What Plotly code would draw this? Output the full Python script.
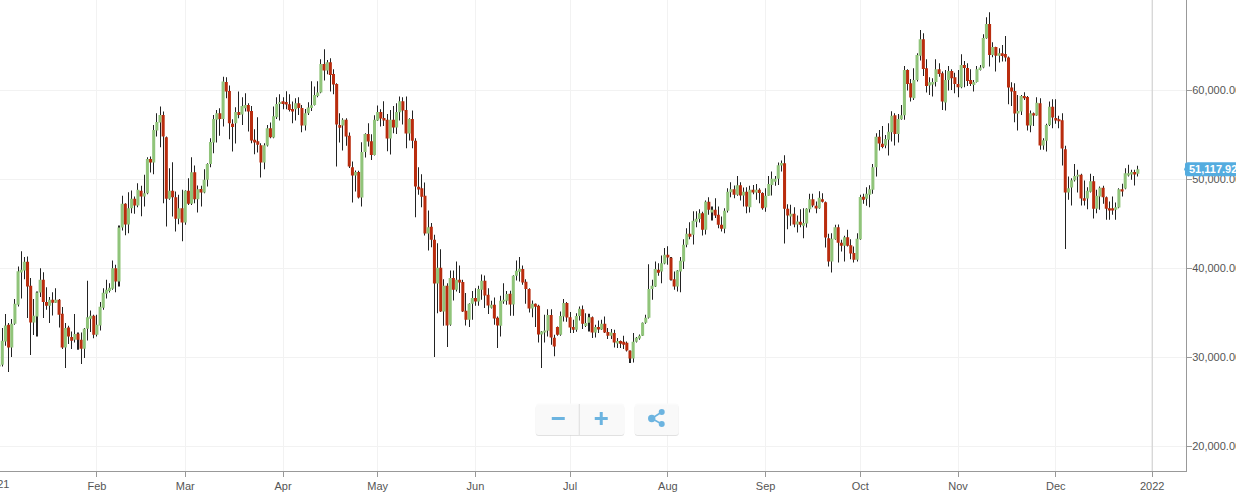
import plotly.graph_objects as go

# Daily prices in thousands of USD
opens_k = [
28.95,29.14,31.76,33.63,31.09,33.75,35.88,39.51,39.74,40.71,
38.01,33.89,34.57,37.27,38.69,36.18,35.77,36.44,36.10,36.44,
34.87,31.09,33.33,32.25,31.95,32.62,31.95,30.94,33.18,34.31,
34.64,32.51,33.56,35.54,37.12,37.42,37.68,40.00,38.50,44.57,
47.23,44.91,46.74,47.79,47.04,48.69,48.05,48.43,52.28,51.87,
55.47,56.37,57.23,54.72,47.79,48.69,47.98,45.54,46.74,45.13,
48.69,47.23,50.78,47.75,48.91,48.50,49.93,51.72,54.12,56.67,
57.42,56.78,60.94,59.92,56.22,56.29,57.56,57.27,57.98,58.35,
57.68,54.42,54.27,53.82,51.87,53.78,55.73,54.68,56.97,58.46,
58.76,58.69,58.43,57.90,57.86,58.54,58.01,56.03,57.42,58.01,
58.35,59.36,59.74,62.96,62.21,63.14,61.83,60.71,56.10,56.03,
56.67,54.87,51.35,50.41,50.82,47.94,53.07,55.09,54.27,52.73,
56.59,57.56,56.89,56.67,54.57,56.67,55.80,57.53,58.76,57.79,
55.13,56.78,54.31,49.14,48.99,48.13,43.90,44.64,43.18,38.28,
40.04,35.13,38.02,33.63,38.88,37.57,38.69,38.43,35.21,34.20,
35.99,36.63,36.26,37.57,38.58,37.00,35.54,35.88,34.42,33.52,
36.26,36.33,37.12,35.92,39.14,39.59,39.89,38.46,37.64,35.47,
35.99,35.77,32.55,32.77,32.96,34.72,32.17,33.37,32.51,34.57,
36.07,34.49,33.37,33.07,34.61,35.39,33.48,33.86,34.49,32.77,
33.37,33.11,33.75,32.81,32.40,32.70,31.54,31.80,31.72,31.61,
30.71,29.85,31.72,32.10,32.40,33.86,34.42,37.64,37.94,39.81,
39.63,40.52,41.50,41.16,38.76,37.94,39.63,40.75,42.62,43.86,
43.75,45.21,45.51,46.18,44.31,47.45,46.25,46.55,45.99,44.87,
44.42,46.44,48.54,48.88,48.24,49.33,48.16,48.58,46.85,48.80,
48.50,48.80,48.46,46.82,48.13,49.36,49.70,50.04,51.53,51.80,
46.67,45.80,46.10,44.91,45.21,44.76,45.02,46.63,47.75,47.00,
46.74,47.75,47.41,43.37,40.75,43.26,44.61,42.85,42.51,43.48,
42.58,41.69,40.94,43.26,48.02,47.79,48.24,48.80,51.35,54.76,
53.97,53.78,54.42,55.28,57.19,55.09,56.74,57.19,62.28,60.79,
59.10,61.16,63.89,65.73,62.47,60.52,60.64,60.94,62.36,61.91,
58.61,61.16,62.17,61.46,60.71,60.34,62.85,62.51,61.16,60.60,
60.94,62.28,62.55,65.84,67.45,63.97,64.87,63.89,64.16,64.08,
63.67,60.30,59.92,57.38,57.60,59.36,59.25,56.03,57.42,57.15,
58.54,53.78,54.31,56.10,58.13,56.89,56.74,56.63,53.37,48.50,
49.06,49.89,50.30,50.49,47.87,47.83,48.58,49.78,46.67,48.05,
49.03,47.98,46.74,46.74,46.55,46.82,48.88,48.95,50.41,50.52,
50.82,50.60]

closes_k = [
29.14,31.84,33.56,31.09,33.75,35.99,39.66,39.81,40.71,37.94,
33.89,34.64,37.27,38.69,36.18,35.77,36.44,36.10,36.44,34.76,
31.09,33.26,32.32,31.84,32.58,31.95,30.94,33.18,34.49,34.64,
32.51,33.63,35.65,37.23,37.56,37.79,40.00,38.50,44.57,47.23,
44.91,46.74,47.79,47.04,48.80,48.05,48.43,52.28,51.87,55.54,
56.44,57.23,54.79,47.79,48.69,47.98,45.54,46.74,45.13,48.69,
47.23,50.78,47.75,48.87,48.50,49.93,51.72,54.19,56.78,57.42,
56.78,60.97,59.85,56.29,55.88,57.56,57.23,58.24,58.35,57.60,
54.34,54.12,53.86,51.87,53.82,55.73,54.72,57.08,58.46,58.69,
58.46,58.39,57.79,57.60,58.54,58.01,56.03,57.42,58.05,58.31,
59.47,59.74,62.96,62.21,63.14,61.72,60.64,56.14,55.77,56.67,
54.79,51.42,50.41,50.82,47.94,53.07,55.09,54.23,52.73,56.67,
57.56,56.82,56.59,54.57,56.67,55.80,57.56,58.76,57.71,55.13,
56.78,54.31,49.18,48.84,48.02,43.90,44.61,43.18,38.28,40.04,
35.13,38.02,33.56,38.88,37.57,38.69,38.39,35.13,34.20,35.99,
36.63,36.26,37.64,38.58,36.93,35.81,35.88,34.35,33.56,36.33,
36.44,37.08,35.92,39.14,39.70,39.93,38.39,37.64,35.47,35.99,
35.66,32.55,32.88,33.00,34.72,32.21,31.20,32.51,34.61,36.07,
34.46,33.33,33.07,34.61,35.43,33.75,33.82,34.49,32.77,33.37,
33.11,33.75,32.77,32.40,32.77,31.65,31.80,31.50,31.39,30.75,
29.85,31.72,32.17,32.40,33.86,34.42,37.64,38.02,39.89,39.48,
40.56,41.50,41.20,38.69,37.94,39.74,40.82,42.62,43.86,43.52,
45.32,45.54,46.18,44.31,47.45,46.55,46.55,45.92,44.87,44.42,
46.44,48.58,48.88,48.24,49.33,48.16,48.58,46.93,48.80,48.50,
48.80,48.46,46.74,48.13,49.47,50.04,50.04,51.57,51.83,46.67,
45.92,46.10,44.91,45.24,44.87,45.06,46.67,47.75,47.04,46.70,
47.90,47.45,43.45,40.75,43.30,44.61,42.85,42.51,43.48,42.51,
41.65,40.94,43.30,48.01,47.68,48.35,48.88,51.35,54.76,54.01,
53.63,54.53,55.32,57.12,55.09,56.78,57.19,62.28,60.71,59.18,
61.16,63.97,65.73,62.40,60.49,60.90,60.94,62.36,61.83,58.73,
61.16,62.17,61.35,60.71,60.34,62.85,62.51,61.05,60.71,60.94,
62.36,62.55,65.88,67.45,63.97,64.87,63.89,64.16,63.86,63.67,
60.30,59.85,57.38,57.68,59.36,59.10,56.03,57.42,57.15,58.58,
53.78,54.38,56.10,58.13,56.93,56.59,56.52,53.45,48.50,48.99,
49.89,50.37,50.49,47.83,47.57,48.69,49.78,46.67,48.13,49.03,
47.98,46.67,46.48,46.48,46.85,48.88,48.61,50.67,50.67,50.82,
50.52,51.11792]

highs_k = [
29.51,33.26,34.83,33.82,34.27,36.52,40.19,41.91,41.24,41.31,
38.88,36.52,37.38,40.00,39.55,37.86,36.74,37.30,37.75,36.52,
35.62,33.82,33.52,32.88,34.83,32.77,32.77,33.26,38.58,35.24,
34.76,34.76,36.18,37.75,38.69,38.31,40.86,40.37,44.79,48.13,
47.30,48.54,48.73,48.05,49.55,49.25,50.49,52.47,52.54,56.10,
57.41,58.16,57.60,54.79,51.23,51.91,48.61,48.24,48.80,48.75,
50.11,52.47,51.53,49.29,49.25,51.12,51.80,54.61,57.23,57.79,
57.98,61.53,61.46,60.52,56.74,58.09,59.85,59.21,59.66,58.54,
58.24,55.62,56.97,54.04,54.04,56.10,56.37,58.16,59.21,59.55,
59.21,59.89,59.55,58.73,59.10,59.21,58.35,57.90,58.65,61.01,
60.41,61.01,63.48,64.61,63.41,63.59,62.36,60.79,57.42,56.85,
56.85,55.24,51.98,50.97,50.94,54.16,55.17,56.29,55.06,57.19,
58.28,57.86,58.76,57.34,57.79,58.24,58.54,59.29,59.21,59.29,
56.85,57.71,54.61,51.35,50.56,49.63,46.48,45.06,43.75,42.81,
42.13,38.76,38.31,39.74,39.74,40.75,40.30,38.69,37.19,36.05,
37.42,37.75,38.02,39.29,39.18,37.75,36.33,36.70,34.57,36.89,
38.31,37.42,37.45,39.21,40.86,41.24,40.30,38.76,37.75,36.37,
36.03,35.88,32.92,34.76,35.39,35.39,32.51,33.45,35.13,36.52,
36.18,35.06,34.20,34.94,35.69,35.81,34.94,34.87,34.57,33.63,
34.12,34.20,34.57,33.26,33.15,33.07,32.14,31.87,32.40,31.76,
30.75,32.70,32.25,32.55,33.90,34.76,40.45,38.69,40.75,40.56,
41.42,42.25,42.47,41.24,39.63,39.78,41.24,43.26,44.49,45.17,
46.40,46.40,46.63,46.33,47.60,47.98,46.93,47.86,46.93,45.80,
46.74,48.99,49.66,49.29,50.37,49.66,49.06,49.10,49.25,49.36,
49.47,48.99,48.54,48.99,50.37,50.86,50.37,51.87,52.10,52.70,
47.19,47.12,46.85,45.92,46.63,46.74,46.74,48.35,48.35,47.49,
48.65,48.43,47.49,43.86,43.93,44.87,44.91,43.18,43.63,44.31,
43.26,42.43,43.93,48.24,48.35,49.10,49.33,51.72,55.17,55.54,
55.99,54.98,56.29,57.64,57.42,57.34,58.35,62.73,62.36,61.27,
62.47,64.16,66.78,66.40,63.48,61.46,61.35,63.48,63.03,62.10,
62.28,62.73,62.36,61.98,62.28,64.04,63.29,63.03,62.36,61.16,
62.73,62.85,66.29,68.20,68.76,65.39,64.90,64.72,65.09,66.10,
63.78,60.90,60.79,59.47,59.47,59.77,59.36,57.71,57.49,59.21,
59.10,54.61,56.22,58.73,58.99,58.99,57.12,57.42,53.75,50.30,
50.11,51.72,51.05,50.60,49.85,49.10,50.60,50.37,48.80,49.18,
49.25,48.05,47.49,48.05,47.38,48.99,49.48,51.24,51.61,51.05,
51.05,51.50]

lows_k = [
28.76,28.95,31.27,28.31,30.00,33.63,35.69,36.59,38.76,34.38,
30.22,32.47,32.32,36.74,34.38,35.32,33.82,34.68,36.07,33.33,
30.90,28.76,31.46,30.90,31.65,30.82,29.21,29.89,31.87,32.81,
32.13,32.32,33.00,35.32,36.59,37.27,37.56,37.30,37.94,44.23,
43.71,43.93,46.18,46.10,46.85,45.84,46.93,48.31,50.75,50.56,
54.79,53.59,47.30,44.68,47.68,45.80,44.12,44.94,43.03,44.87,
47.11,47.11,47.30,46.25,46.93,48.43,49.18,51.35,52.92,54.12,
54.87,55.92,59.10,54.49,53.11,54.01,56.85,56.10,57.60,55.36,
54.04,52.81,53.00,50.19,51.12,53.67,54.61,54.61,56.78,56.59,
57.86,57.86,57.60,56.29,56.59,57.23,55.28,55.47,57.23,57.68,
58.28,59.21,59.66,61.09,61.80,59.85,59.55,51.42,54.12,53.22,
53.75,51.27,47.38,48.61,47.83,46.93,52.43,53.67,52.17,52.66,
56.55,55.92,55.99,53.15,52.77,55.17,55.09,56.59,56.14,53.48,
54.34,53.48,45.73,48.24,46.85,43.67,41.99,42.36,30.00,34.94,
35.06,33.52,31.12,33.52,36.37,37.38,37.19,35.06,33.56,33.37,
34.20,35.77,35.77,36.44,35.51,34.83,35.47,33.63,31.01,32.32,
35.99,35.88,34.64,34.64,38.61,38.50,38.13,35.99,35.02,34.49,
33.37,31.65,28.77,31.65,32.32,31.39,30.08,32.40,32.40,34.01,
33.97,32.70,32.70,32.85,34.12,33.15,33.37,32.88,32.14,32.21,
32.70,33.03,32.70,32.02,32.02,31.09,31.01,31.01,30.90,30.64,
29.33,29.40,31.65,31.95,32.36,33.75,34.35,36.44,37.87,39.14,
38.31,40.45,40.37,38.61,37.57,37.38,37.30,39.89,42.36,43.26,
42.66,44.61,45.13,43.67,43.78,45.99,45.36,45.65,44.49,44.12,
43.93,46.25,47.98,47.86,48.13,47.60,46.93,46.18,46.25,48.31,
47.68,47.30,46.55,46.33,48.13,48.16,49.25,49.36,50.86,42.77,
44.38,44.76,44.61,44.01,44.61,43.37,44.57,46.25,46.85,46.18,
46.67,47.38,42.32,40.19,39.51,43.18,40.64,41.87,40.75,42.43,
41.01,40.64,40.75,43.18,47.23,47.00,46.85,48.35,50.30,53.22,
53.48,53.48,52.66,54.23,53.78,54.12,56.67,56.67,59.96,58.73,
58.91,60.97,63.33,61.61,59.74,59.47,59.29,60.41,61.53,57.79,
57.71,59.96,60.04,59.66,59.21,60.22,60.34,60.49,60.49,59.85,
60.86,62.21,62.47,65.80,62.66,63.71,62.10,63.11,63.22,63.22,
58.43,58.24,56.40,55.47,57.23,58.91,55.47,55.28,55.99,57.12,
53.30,53.30,53.11,55.99,55.73,56.22,55.73,51.54,42.14,47.68,
47.04,49.74,48.50,47.04,47.04,46.63,48.50,45.58,46.18,46.55,
47.23,45.43,45.43,45.99,45.43,46.74,48.05,48.88,50.30,49.93,
49.29,50.30]

assert len(opens_k) == len(closes_k) == len(highs_k) == len(lows_k)

# The axis is ordinal: one step per candle
month_labels = ["Feb", "Mar", "Apr", "May", "Jun", "Jul", "Aug", "Sep", "Oct", "Nov", "Dec", "2022"]
month_steps = [31, 59, 90, 120, 151, 181, 212, 243, 273, 304, 335, 365.55]
first_label = "2021"
price_ticks = [20000, 30000, 40000, 50000, 60000]

opens = [v * 1000 for v in opens_k]
closes = [v * 1000 for v in closes_k]
highs = [v * 1000 for v in highs_k]
lows = [v * 1000 for v in lows_k]
steps = list(range(len(opens)))
last_close = closes[-1]

GREEN, RED, WICK = "#90c47a", "#b92c0e", "#222222"
TEXT, AXIS, GRID = "#555555", "#999999", "#f2f2f2"
BLUE = "#6cb4e0"

PLOT_W, PLOT_H = 1186.5, 471.0


def px(x):
    return x / PLOT_W


def py(y):
    return 1 - y / PLOT_H


def round_rect(x0, y0, x1, y1, r=3):
    return (f"M {px(x0 + r)} {py(y0)} L {px(x1 - r)} {py(y0)} Q {px(x1)} {py(y0)} {px(x1)} {py(y0 + r)} "
            f"L {px(x1)} {py(y1 - r)} Q {px(x1)} {py(y1)} {px(x1 - r)} {py(y1)} "
            f"L {px(x0 + r)} {py(y1)} Q {px(x0)} {py(y1)} {px(x0)} {py(y1 - r)} "
            f"L {px(x0)} {py(y0 + r)} Q {px(x0)} {py(y0)} {px(x0 + r)} {py(y0)} Z")


def panel(x0, x1):
    return [
        dict(type="path", xref="paper", yref="paper", path=round_rect(x0, 405, x1, 436),
             fillcolor="rgba(205,205,205,0.6)", line_width=0),
        dict(type="path", xref="paper", yref="paper", path=round_rect(x0, 403.5, x1, 435),
             fillcolor="rgba(251,251,251,0.92)", line_width=0),
    ]


def bar(x0, y0, x1, y1):
    return dict(type="rect", xref="paper", yref="paper", x0=px(x0), x1=px(x1), y0=py(y0), y1=py(y1),
                fillcolor=BLUE, line_width=0)


def dot(cx, cy, r=3.5):
    return dict(type="circle", xref="paper", yref="paper", x0=px(cx - r), x1=px(cx + r),
                y0=py(cy - r), y1=py(cy + r), fillcolor=BLUE, line_width=0)


def link(x0, y0, x1, y1):
    return dict(type="line", xref="paper", yref="paper", x0=px(x0), x1=px(x1), y0=py(y0), y1=py(y1),
                line=dict(color=BLUE, width=1.5))


shapes = [
    dict(type="line", xref="x", yref="paper", x0=month_steps[-1], x1=month_steps[-1], y0=0, y1=1,
         line=dict(color="#cccccc", width=1), layer="above"),
    *panel(536, 624.5),
    *panel(635, 679),
    dict(type="line", xref="paper", yref="paper", x0=px(579.5), x1=px(579.5), y0=py(404), y1=py(435),
         line=dict(color="#dddddd", width=1)),
    bar(552, 417, 565, 420),
    bar(595, 417, 608, 420),
    bar(600, 412, 603, 425),
    link(662, 412, 652, 418.5),
    link(652, 418.5, 662, 424),
    dot(662, 412, 3),
    dot(652, 418.5, 3.7),
    dot(662, 424, 3),
    dict(type="path", xref="paper", yref="y", xsizemode="pixel", ysizemode="pixel", xanchor=1, yanchor=last_close,
         path="M -2 0 L -1 2 L -1 5 Q -1 7 2 7 L 60 7 L 60 -7 L 2 -7 Q -1 -7 -1 -5 L -1 -2 Z",
         fillcolor="#54acdf", line_width=0),
]

fig = go.Figure()
fig.add_trace(go.Bar(
    x=steps, base=lows, y=[h - l for h, l in zip(highs, lows)], width=0.01,
    marker=dict(color=WICK, line_width=0), hoverinfo="skip", showlegend=False,
))
fig.add_trace(go.Candlestick(
    x=steps, open=opens, high=highs, low=lows, close=closes, whiskerwidth=0,
    increasing=dict(fillcolor=GREEN, line=dict(color=GREEN, width=0)),
    decreasing=dict(fillcolor=RED, line=dict(color=RED, width=0)),
    hoverinfo="skip", showlegend=False,
))

fig.update_layout(
    width=1236, height=498, margin=dict(l=0, r=1236 - PLOT_W, t=0, b=498 - PLOT_H, pad=0, autoexpand=False),
    paper_bgcolor="white", plot_bgcolor="white", showlegend=False,
    barmode="overlay", boxgap=0.04, boxgroupgap=0,
    font=dict(family="Liberation Sans, Arial, sans-serif", size=11, color=TEXT),
    shapes=shapes,
    annotations=[
        dict(xref="paper", yref="paper", x=px(-2.7), y=-(484 - PLOT_H) / PLOT_H, text=first_label, showarrow=False,
             xanchor="center", yanchor="middle", font=dict(size=11, color=TEXT)),
        dict(xref="paper", yref="y", x=1, y=last_close, xshift=1, text=f"{last_close:,.2f}", showarrow=False,
             xanchor="left", yanchor="middle", font=dict(size=11, color="white", family="Liberation Sans, Arial, sans-serif", weight="bold")),
    ],
    xaxis=dict(
        type="linear", range=[0.271, 376.27], tickmode="array", tickvals=month_steps, ticktext=month_labels,
        showgrid=True, gridcolor=GRID, gridwidth=1, zeroline=False, showline=True, linecolor=AXIS, linewidth=1,
        ticks="outside", ticklen=5, tickcolor=AXIS, tickwidth=1, rangeslider=dict(visible=False),
        tickfont=dict(size=11, color=TEXT), fixedrange=True,
    ),
    yaxis=dict(
        side="right", range=[17191, 70146], tickmode="array", tickvals=price_ticks, tickformat=",.2f",
        showgrid=True, gridcolor=GRID, gridwidth=1, zeroline=False, showline=True, linecolor=AXIS, linewidth=1,
        ticks="outside", ticklen=5, tickcolor=AXIS, tickwidth=1, tickfont=dict(size=11, color=TEXT), fixedrange=True,
        ticklabelstandoff=-2,
    ),
)

fig.write_html(
    "out.html",
    config=dict(displayModeBar=False),
    post_script="document.body.style.margin='0';document.documentElement.style.overflow='hidden';",
)
